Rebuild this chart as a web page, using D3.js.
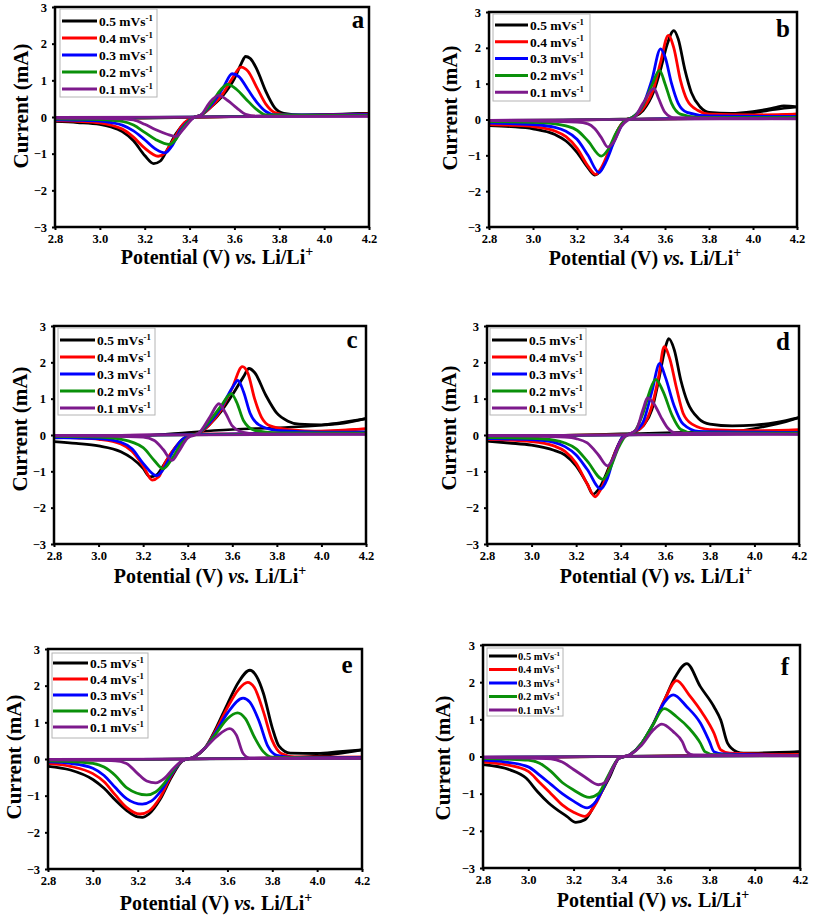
<!DOCTYPE html>
<html><head><meta charset="utf-8">
<script src="https://cdn.jsdelivr.net/npm/d3@7/dist/d3.min.js"></script>
<style>body{margin:0;background:#fff}svg{display:block}</style>
</head><body>
<svg id="chart" width="813" height="917"></svg>
<script>
// ---------------- DATA ----------------
const scanRates = ["0.5", "0.4", "0.3", "0.2", "0.1"];
const panelLabels = ["a", "b", "c", "d", "e", "f"];
const xTicks = [2.8, 3.0, 3.2, 3.4, 3.6, 3.8, 4.0, 4.2];
const yTicks = [-3, -2, -1, 0, 1, 2, 3];

// Each panel: 5 series (0.5 → 0.1 mV/s), [potential V, current mA], main sweep
const cvA = [
  [[2.8,-0.12],[2.9,-0.15],[3.0,-0.2],[3.05,-0.27],[3.1,-0.4],[3.15,-0.65],[3.2,-1.05],[3.24,-1.27],[3.27,-1.2],[3.3,-0.9],[3.34,-0.45],[3.38,-0.15],[3.42,-0.01],[3.45,0.05],[3.5,0.3],[3.55,0.6],[3.6,1.05],[3.63,1.45],[3.65,1.65],[3.67,1.6],[3.7,1.3],[3.74,0.7],[3.78,0.25],[3.82,0.1],[3.9,0.05],[4.0,0.06],[4.2,0.1]],
  [[2.8,-0.1],[2.9,-0.12],[3.0,-0.16],[3.05,-0.22],[3.1,-0.33],[3.15,-0.55],[3.2,-0.85],[3.26,-1.07],[3.29,-0.98],[3.33,-0.6],[3.37,-0.2],[3.42,-0.01],[3.45,0.05],[3.5,0.3],[3.55,0.65],[3.59,1.05],[3.63,1.36],[3.66,1.25],[3.7,0.8],[3.74,0.35],[3.78,0.12],[3.85,0.05],[4.2,0.08]],
  [[2.8,-0.08],[2.9,-0.09],[3.0,-0.11],[3.05,-0.15],[3.1,-0.22],[3.15,-0.38],[3.2,-0.62],[3.25,-0.88],[3.29,-0.98],[3.32,-0.8],[3.36,-0.35],[3.42,-0.01],[3.45,0.05],[3.5,0.35],[3.55,0.8],[3.59,1.18],[3.62,1.1],[3.66,0.75],[3.7,0.4],[3.74,0.15],[3.78,0.06],[4.2,0.06]],
  [[2.8,-0.05],[3.0,-0.07],[3.1,-0.12],[3.15,-0.22],[3.2,-0.42],[3.25,-0.62],[3.31,-0.75],[3.34,-0.6],[3.37,-0.3],[3.42,-0.01],[3.45,0.05],[3.5,0.4],[3.54,0.75],[3.57,0.89],[3.61,0.75],[3.65,0.5],[3.7,0.2],[3.74,0.06],[4.2,0.04]],
  [[2.8,-0.03],[3.0,-0.04],[3.1,-0.05],[3.15,-0.08],[3.2,-0.2],[3.25,-0.35],[3.3,-0.47],[3.34,-0.53],[3.37,-0.35],[3.42,-0.01],[3.45,0.05],[3.49,0.4],[3.53,0.59],[3.57,0.45],[3.61,0.25],[3.65,0.07],[3.7,0.02],[4.2,0.02]]
];
const cvA_return = [
  [[2.8,-0.05],[3.2,-0.03],[3.4,-0.01],[3.8,0.03],[4.2,0.1]],
  [[2.8,-0.04],[3.4,-0.01],[4.2,0.08]],
  [[2.8,-0.03],[3.4,0],[4.2,0.06]],
  [[2.8,-0.02],[3.4,0],[4.2,0.04]],
  [[2.8,-0.01],[3.4,0],[4.2,0.02]]
];

const cvB = [
  [[2.8,-0.17],[2.9,-0.2],[3.0,-0.26],[3.1,-0.42],[3.15,-0.6],[3.2,-0.92],[3.25,-1.35],[3.28,-1.55],[3.31,-1.4],[3.35,-0.85],[3.39,-0.25],[3.42,-0.02],[3.45,0.05],[3.5,0.25],[3.55,0.8],[3.58,1.4],[3.61,2.1],[3.64,2.48],[3.66,2.25],[3.69,1.4],[3.72,0.75],[3.76,0.35],[3.8,0.2],[3.9,0.17],[4.0,0.22],[4.1,0.33],[4.14,0.38],[4.2,0.35]],
  [[2.8,-0.14],[2.9,-0.16],[3.0,-0.2],[3.1,-0.32],[3.15,-0.48],[3.2,-0.8],[3.25,-1.3],[3.285,-1.53],[3.31,-1.35],[3.35,-0.8],[3.39,-0.25],[3.42,-0.02],[3.45,0.05],[3.5,0.3],[3.55,0.9],[3.58,1.6],[3.615,2.35],[3.64,2.0],[3.67,1.1],[3.7,0.55],[3.75,0.25],[3.8,0.15],[4.0,0.13],[4.2,0.15]],
  [[2.8,-0.1],[3.0,-0.14],[3.1,-0.22],[3.15,-0.33],[3.2,-0.55],[3.25,-1.0],[3.3,-1.48],[3.33,-1.2],[3.37,-0.6],[3.42,-0.02],[3.45,0.05],[3.5,0.4],[3.54,1.1],[3.58,1.97],[3.6,1.75],[3.63,1.0],[3.66,0.45],[3.7,0.2],[3.8,0.1],[4.2,0.08]],
  [[2.8,-0.06],[3.0,-0.08],[3.1,-0.12],[3.15,-0.18],[3.2,-0.3],[3.25,-0.6],[3.31,-1.02],[3.34,-0.85],[3.38,-0.35],[3.42,-0.02],[3.45,0.05],[3.5,0.4],[3.54,0.95],[3.575,1.37],[3.6,1.0],[3.63,0.45],[3.67,0.15],[3.75,0.06],[4.2,0.05]],
  [[2.8,-0.03],[3.0,-0.04],[3.2,-0.07],[3.25,-0.12],[3.28,-0.25],[3.31,-0.5],[3.34,-0.77],[3.37,-0.6],[3.4,-0.2],[3.43,-0.02],[3.46,0.05],[3.5,0.45],[3.55,0.87],[3.57,0.6],[3.6,0.2],[3.64,0.05],[4.2,0.02]]
];
const cvB_return = [
  [[2.8,-0.06],[3.0,-0.04],[3.4,0.01],[3.7,0.03],[3.9,0.08],[4.0,0.18],[4.1,0.28],[4.2,0.35]],
  [[2.8,-0.05],[3.4,0],[3.9,0.05],[4.2,0.15]],
  [[2.8,-0.04],[3.4,0],[4.2,0.08]],
  [[2.8,-0.03],[3.4,0],[4.2,0.05]],
  [[2.8,-0.02],[3.4,0],[4.2,0.02]]
];

const cvC = [
  [[2.8,-0.18],[2.9,-0.23],[3.0,-0.3],[3.1,-0.46],[3.15,-0.64],[3.2,-0.92],[3.23,-1.15],[3.26,-1.1],[3.3,-0.75],[3.35,-0.3],[3.4,-0.02],[3.45,0.05],[3.5,0.3],[3.55,0.65],[3.6,1.1],[3.65,1.6],[3.675,1.83],[3.7,1.72],[3.75,1.1],[3.8,0.6],[3.85,0.38],[3.9,0.3],[4.0,0.28],[4.1,0.33],[4.2,0.45]],
  [[2.8,-0.05],[2.9,-0.08],[3.0,-0.12],[3.1,-0.25],[3.15,-0.45],[3.2,-0.85],[3.24,-1.24],[3.27,-1.15],[3.3,-0.75],[3.35,-0.3],[3.4,-0.03],[3.45,0.05],[3.5,0.3],[3.55,0.7],[3.6,1.3],[3.645,1.88],[3.67,1.7],[3.7,1.0],[3.73,0.5],[3.77,0.25],[3.85,0.15],[4.0,0.1],[4.2,0.17]],
  [[2.8,-0.07],[3.0,-0.1],[3.1,-0.2],[3.15,-0.38],[3.2,-0.78],[3.26,-1.12],[3.29,-0.95],[3.33,-0.5],[3.37,-0.15],[3.41,-0.02],[3.45,0.05],[3.5,0.35],[3.55,0.75],[3.6,1.3],[3.625,1.5],[3.65,1.2],[3.68,0.6],[3.72,0.28],[3.8,0.13],[4.0,0.08],[4.2,0.08]],
  [[2.8,-0.04],[3.0,-0.06],[3.1,-0.12],[3.2,-0.35],[3.25,-0.7],[3.29,-0.93],[3.33,-0.65],[3.37,-0.25],[3.41,-0.03],[3.45,0.05],[3.5,0.4],[3.55,0.8],[3.595,1.14],[3.62,0.9],[3.65,0.4],[3.7,0.13],[3.8,0.06],[4.2,0.05]],
  [[2.8,-0.02],[3.0,-0.03],[3.2,-0.06],[3.25,-0.15],[3.29,-0.4],[3.33,-0.7],[3.36,-0.45],[3.4,-0.08],[3.45,0.05],[3.5,0.5],[3.54,0.86],[3.57,0.6],[3.6,0.25],[3.65,0.07],[3.7,0.03],[4.2,0.02]]
];
const cvC_return = [
  [[2.8,-0.08],[3.0,-0.05],[3.25,0.0],[3.4,0.07],[3.6,0.15],[3.8,0.2],[4.0,0.27],[4.2,0.45]],
  [[2.8,-0.04],[3.4,0.02],[3.8,0.06],[4.2,0.17]],
  [[2.8,-0.03],[3.4,0.01],[4.2,0.08]],
  [[2.8,-0.02],[3.4,0],[4.2,0.05]],
  [[2.8,-0.01],[3.4,0],[4.2,0.02]]
];

const cvD = [
  [[2.8,-0.17],[2.9,-0.22],[3.0,-0.28],[3.1,-0.42],[3.15,-0.55],[3.2,-0.85],[3.25,-1.35],[3.275,-1.63],[3.3,-1.5],[3.35,-0.85],[3.38,-0.4],[3.41,-0.05],[3.45,0.05],[3.5,0.25],[3.54,0.7],[3.57,1.5],[3.6,2.4],[3.615,2.65],[3.64,2.35],[3.67,1.5],[3.7,0.9],[3.75,0.45],[3.8,0.3],[3.9,0.25],[4.0,0.27],[4.1,0.35],[4.2,0.48]],
  [[2.8,-0.12],[3.0,-0.18],[3.1,-0.3],[3.15,-0.45],[3.2,-0.78],[3.25,-1.35],[3.285,-1.7],[3.31,-1.5],[3.35,-0.9],[3.38,-0.4],[3.41,-0.06],[3.45,0.05],[3.5,0.25],[3.54,0.8],[3.57,1.6],[3.595,2.43],[3.62,2.1],[3.65,1.3],[3.68,0.6],[3.72,0.3],[3.8,0.15],[4.0,0.12],[4.2,0.14]],
  [[2.8,-0.1],[3.0,-0.13],[3.1,-0.2],[3.15,-0.32],[3.2,-0.55],[3.25,-0.95],[3.31,-1.48],[3.34,-1.2],[3.37,-0.6],[3.41,-0.05],[3.45,0.05],[3.5,0.35],[3.54,1.2],[3.575,1.97],[3.6,1.6],[3.64,0.8],[3.68,0.3],[3.75,0.1],[4.2,0.07]],
  [[2.8,-0.07],[3.0,-0.09],[3.1,-0.14],[3.15,-0.22],[3.2,-0.38],[3.25,-0.72],[3.32,-1.22],[3.35,-0.95],[3.39,-0.35],[3.42,-0.04],[3.46,0.08],[3.5,0.6],[3.53,1.2],[3.557,1.53],[3.59,1.2],[3.63,0.55],[3.67,0.15],[3.72,0.06],[4.2,0.05]],
  [[2.8,-0.02],[3.0,-0.03],[3.15,-0.06],[3.2,-0.1],[3.25,-0.22],[3.3,-0.55],[3.34,-0.85],[3.37,-0.6],[3.4,-0.15],[3.43,0.0],[3.47,0.15],[3.5,0.7],[3.52,1.02],[3.55,0.85],[3.58,0.5],[3.61,0.2],[3.65,0.05],[4.2,0.02]]
];
const cvD_return = [
  [[2.8,-0.06],[3.2,0.0],[3.4,0.03],[3.6,0.06],[3.9,0.1],[4.0,0.18],[4.1,0.3],[4.2,0.48]],
  [[2.8,-0.04],[3.4,0.01],[3.9,0.05],[4.2,0.14]],
  [[2.8,-0.03],[3.4,0],[4.2,0.07]],
  [[2.8,-0.02],[3.4,0],[4.2,0.05]],
  [[2.8,-0.01],[3.4,0],[4.2,0.02]]
];

const cvE = [
  [[2.8,-0.2],[2.9,-0.3],[3.0,-0.56],[3.05,-0.8],[3.1,-1.12],[3.15,-1.4],[3.2,-1.58],[3.22,-1.59],[3.25,-1.5],[3.3,-1.1],[3.35,-0.5],[3.4,-0.05],[3.45,0.05],[3.5,0.3],[3.55,0.85],[3.6,1.5],[3.65,2.1],[3.7,2.42],[3.73,2.25],[3.76,1.8],[3.8,0.85],[3.83,0.35],[3.88,0.16],[4.0,0.15],[4.1,0.2],[4.2,0.25]],
  [[2.8,-0.12],[2.9,-0.2],[3.0,-0.4],[3.05,-0.62],[3.1,-0.98],[3.15,-1.32],[3.21,-1.5],[3.25,-1.42],[3.3,-1.05],[3.35,-0.45],[3.4,-0.04],[3.45,0.05],[3.5,0.3],[3.55,0.8],[3.6,1.4],[3.65,1.9],[3.69,2.09],[3.72,1.95],[3.76,1.3],[3.8,0.5],[3.84,0.15],[3.9,0.06],[4.2,0.05]],
  [[2.8,-0.08],[2.9,-0.12],[3.0,-0.25],[3.05,-0.45],[3.1,-0.78],[3.15,-1.08],[3.22,-1.23],[3.26,-1.15],[3.3,-0.9],[3.35,-0.42],[3.4,-0.04],[3.45,0.05],[3.5,0.3],[3.55,0.75],[3.6,1.25],[3.67,1.66],[3.7,1.55],[3.74,1.05],[3.78,0.35],[3.82,0.1],[3.9,0.04],[4.2,0.03]],
  [[2.8,-0.05],[2.9,-0.07],[3.0,-0.12],[3.05,-0.22],[3.1,-0.45],[3.15,-0.78],[3.24,-0.98],[3.28,-0.9],[3.32,-0.65],[3.36,-0.3],[3.4,-0.04],[3.45,0.05],[3.5,0.3],[3.55,0.7],[3.6,1.1],[3.645,1.26],[3.68,1.1],[3.72,0.6],[3.76,0.2],[3.8,0.05],[4.2,0.02]],
  [[2.8,-0.02],[3.0,-0.03],[3.1,-0.05],[3.15,-0.12],[3.2,-0.4],[3.24,-0.6],[3.28,-0.65],[3.32,-0.52],[3.36,-0.25],[3.4,-0.04],[3.45,0.05],[3.5,0.3],[3.55,0.6],[3.61,0.83],[3.64,0.65],[3.67,0.15],[3.7,0.03],[4.2,0.02]]
];
const cvE_return = [
  [[2.8,-0.04],[3.4,0.0],[3.8,0.03],[4.0,0.08],[4.2,0.25]],
  [[2.8,-0.03],[3.4,0],[4.2,0.05]],
  [[2.8,-0.02],[3.4,0],[4.2,0.03]],
  [[2.8,-0.02],[3.4,0],[4.2,0.02]],
  [[2.8,-0.01],[3.4,0],[4.2,0.02]]
];

const cvF = [
  [[2.8,-0.22],[2.92,-0.36],[2.99,-0.58],[3.04,-0.94],[3.09,-1.25],[3.17,-1.61],[3.21,-1.77],[3.25,-1.7],[3.3,-1.21],[3.36,-0.54],[3.4,-0.05],[3.45,0.05],[3.5,0.35],[3.55,0.85],[3.6,1.5],[3.65,2.15],[3.7,2.5],[3.76,1.88],[3.82,1.34],[3.85,0.98],[3.88,0.36],[3.92,0.13],[3.95,0.09],[4.2,0.13]],
  [[2.8,-0.15],[2.9,-0.22],[3.0,-0.4],[3.05,-0.7],[3.1,-1.0],[3.15,-1.3],[3.2,-1.5],[3.25,-1.61],[3.3,-1.25],[3.35,-0.6],[3.4,-0.05],[3.45,0.05],[3.5,0.35],[3.55,0.85],[3.6,1.5],[3.655,2.04],[3.71,1.66],[3.77,1.16],[3.82,0.63],[3.85,0.18],[3.89,0.09],[4.2,0.05]],
  [[2.8,-0.1],[2.9,-0.15],[3.0,-0.28],[3.05,-0.5],[3.1,-0.75],[3.15,-1.0],[3.2,-1.2],[3.26,-1.38],[3.3,-1.2],[3.35,-0.6],[3.4,-0.05],[3.45,0.05],[3.5,0.35],[3.55,0.85],[3.6,1.45],[3.64,1.66],[3.7,1.34],[3.76,0.9],[3.8,0.4],[3.82,0.13],[3.86,0.07],[4.2,0.03]],
  [[2.8,-0.05],[2.9,-0.07],[3.0,-0.1],[3.05,-0.18],[3.1,-0.4],[3.15,-0.7],[3.2,-0.9],[3.27,-1.1],[3.31,-1.0],[3.35,-0.55],[3.4,-0.05],[3.45,0.05],[3.5,0.35],[3.55,0.85],[3.6,1.29],[3.655,1.07],[3.71,0.76],[3.76,0.36],[3.78,0.13],[3.82,0.05],[4.2,0.02]],
  [[2.8,-0.03],[3.0,-0.04],[3.1,-0.06],[3.15,-0.15],[3.2,-0.35],[3.25,-0.55],[3.31,-0.76],[3.34,-0.7],[3.37,-0.35],[3.4,-0.05],[3.45,0.05],[3.5,0.3],[3.55,0.7],[3.59,0.87],[3.64,0.67],[3.68,0.4],[3.7,0.13],[3.73,0.04],[4.2,0.02]]
];
const cvF_return = [
  [[2.8,-0.04],[3.4,0.0],[3.6,0.02],[4.0,0.04],[4.2,0.13]],
  [[2.8,-0.03],[3.4,0],[4.2,0.05]],
  [[2.8,-0.02],[3.4,0],[4.2,0.03]],
  [[2.8,-0.02],[3.4,0],[4.2,0.02]],
  [[2.8,-0.01],[3.4,0],[4.2,0.02]]
];

// ---------------- STYLE / LAYOUT ----------------
const colors = ["#000000", "#ff0000", "#0000ff", "#0a900a", "#7d1a8c"];
const FONT = "'Liberation Serif','Times New Roman',serif";

const layout = [
  {L:55, R:369, T:7,   B:227, leg:{x:60, y:9,   w:97, h:88, r0:21,  dy:17,   l0:62,  l1:97,  tx:99,  fs:13.5}, lab:{x:358, y:28},  yt:{x:21,  y:106}, xt:{x:217, y:264}},
  {L:489,R:797, T:12,  B:227, leg:{x:493,y:14,  w:97, h:87, r0:25,  dy:16.8, l0:495, l1:528, tx:530, fs:13.5}, lab:{x:783, y:37},  yt:{x:450, y:108}, xt:{x:645, y:265}},
  {L:54, R:366, T:326, B:544, leg:{x:58, y:328, w:97, h:87, r0:340, dy:17,   l0:60,  l1:95,  tx:97,  fs:13.5}, lab:{x:352, y:348}, yt:{x:20,  y:429}, xt:{x:210, y:583}},
  {L:487,R:799, T:326, B:544, leg:{x:490,y:328, w:96, h:87, r0:340, dy:17,   l0:492, l1:527, tx:529, fs:13.5}, lab:{x:783, y:350}, yt:{x:449, y:428}, xt:{x:656, y:583}},
  {L:48, R:362, T:649, B:869, leg:{x:52, y:653, w:96, h:85, r0:663, dy:16,   l0:53,  l1:88,  tx:90,  fs:13.5}, lab:{x:347, y:673}, yt:{x:14,  y:757}, xt:{x:216, y:910}},
  {L:483,R:800, T:645, B:868, leg:{x:487,y:648, w:76, h:68, r0:656, dy:13.5, l0:489, l1:517, tx:518, fs:10.5}, lab:{x:785, y:675}, yt:{x:443, y:758}, xt:{x:653, y:907}}
];

const panelData = [cvA, cvB, cvC, cvD, cvE, cvF];
const panelReturn = [cvA_return, cvB_return, cvC_return, cvD_return, cvE_return, cvF_return];

// ---------------- DRAW ----------------
const svg = d3.select("#chart");
svg.append("rect").attr("width", 813).attr("height", 917).attr("fill", "#fff");

layout.forEach((b, pi) => {
  const x = d3.scaleLinear().domain([2.8, 4.2]).range([b.L, b.R]);
  const y = d3.scaleLinear().domain([-3, 3]).range([b.B, b.T]);
  const g = svg.append("g");

  const clipId = "clip" + pi;
  svg.append("clipPath").attr("id", clipId).append("rect")
    .attr("x", b.L).attr("y", b.T).attr("width", b.R - b.L).attr("height", b.B - b.T);

  const line = d3.line().x(d => x(d[0])).y(d => y(d[1])).curve(d3.curveMonotoneX);
  const cg = g.append("g").attr("clip-path", `url(#${clipId})`);
  panelData[pi].forEach((s, i) => {
    cg.append("path").attr("d", line(panelReturn[pi][i]))
      .attr("fill", "none").attr("stroke", colors[i]).attr("stroke-width", 2.6)
      .attr("stroke-linejoin", "round");
    cg.append("path").attr("d", line(s))
      .attr("fill", "none").attr("stroke", colors[i]).attr("stroke-width", 2.8)
      .attr("stroke-linejoin", "round").attr("stroke-linecap", "round");
  });

  // axes
  const xa = d3.axisBottom(x).tickValues(xTicks).tickSize(3).tickSizeOuter(0).tickPadding(4)
    .tickFormat(d3.format(".1f"));
  const ya = d3.axisLeft(y).tickValues(yTicks).tickSize(3).tickSizeOuter(0).tickPadding(5)
    .tickFormat(d3.format("d"));
  [g.append("g").attr("transform", `translate(0,${b.B})`).call(xa),
   g.append("g").attr("transform", `translate(${b.L},0)`).call(ya)].forEach(ax => {
    ax.select(".domain").remove();
    ax.selectAll(".tick line").attr("stroke", "#000").attr("stroke-width", 2);
    ax.selectAll(".tick text").attr("fill", "#000").style("font-family", FONT)
      .style("font-weight", "bold").style("font-size", "12.5px");
  });

  // frame
  g.append("rect").attr("x", b.L).attr("y", b.T).attr("width", b.R - b.L).attr("height", b.B - b.T)
    .attr("fill", "none").attr("stroke", "#000").attr("stroke-width", 2.5);

  // legend
  const lg = b.leg;
  g.append("rect").attr("x", lg.x).attr("y", lg.y).attr("width", lg.w).attr("height", lg.h)
    .attr("fill", "#fff").attr("stroke", "#b4b4b4").attr("stroke-width", 1);
  scanRates.forEach((r, i) => {
    const yy = lg.r0 + i * lg.dy;
    g.append("line").attr("x1", lg.l0).attr("x2", lg.l1).attr("y1", yy).attr("y2", yy)
      .attr("stroke", colors[i]).attr("stroke-width", 3);
    const t = g.append("text").attr("x", lg.tx).attr("y", yy).attr("dy", "0.35em")
      .style("font-family", FONT).style("font-weight", "bold").style("font-size", lg.fs + "px")
      .attr("fill", "#000");
    t.append("tspan").text(r + " mVs");
    t.append("tspan").attr("dy", -lg.fs * 0.38).style("font-size", (lg.fs * 0.65) + "px").text("-1");
  });

  // panel label
  g.append("text").attr("x", b.lab.x).attr("y", b.lab.y).attr("text-anchor", "middle")
    .style("font-family", FONT).style("font-weight", "bold").style("font-size", "25px")
    .text(panelLabels[pi]);

  // y title
  g.append("text").attr("transform", `translate(${b.yt.x},${b.yt.y}) rotate(-90)`)
    .attr("text-anchor", "middle").attr("dy", "0.35em")
    .style("font-family", FONT).style("font-weight", "bold").style("font-size", "21px")
    .text("Current (mA)");

  // x title
  const xt = g.append("text").attr("x", b.xt.x).attr("y", b.xt.y).attr("text-anchor", "middle")
    .style("font-family", FONT).style("font-weight", "bold").style("font-size", "20px");
  xt.append("tspan").text("Potential (V) ");
  xt.append("tspan").style("font-style", "italic").text("vs.");
  xt.append("tspan").text(" Li/Li");
  xt.append("tspan").attr("dy", -8).style("font-size", "14px").text("+");
});
</script>
</body></html>
